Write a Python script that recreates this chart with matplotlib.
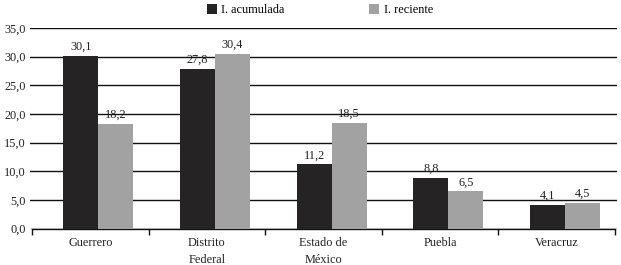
import matplotlib
matplotlib.use("Agg")
import matplotlib.pyplot as plt
import numpy as np
from matplotlib.patches import Patch

categories = ["Guerrero", "Distrito\nFederal", "Estado de\nMéxico", "Puebla", "Veracruz"]
series_names = ["I. acumulada", "I. reciente"]
acumulada = [30.1, 27.8, 11.2, 8.8, 4.1]
reciente = [18.2, 30.4, 18.5, 6.5, 4.5]
yticks = [0, 5, 10, 15, 20, 25, 30, 35]

plt.rcParams['font.family'] = ['Liberation Serif', 'DejaVu Serif']
FS = 8.8
c_dark = "#262324"
c_gray = "#a2a2a2"

fig = plt.figure(figsize=(6.21, 2.65), dpi=100)
ax = fig.add_axes([30/621, 1 - 228.7/265, 587/621, (228.7 - 28)/265])

x = np.arange(len(categories))
w = 0.3
off = 0.07
b1 = ax.bar(x + off - w/2, acumulada, w, color=c_dark, zorder=3)
b2 = ax.bar(x + off + w/2, reciente, w, color=c_gray, zorder=3)

def fmt(v):
    return f"{v:.1f}".replace(".", ",")

for rects, vals in ((b1, acumulada), (b2, reciente)):
    for r, v in zip(rects, vals):
        ax.text(r.get_x() + r.get_width()/2, v + 0.55, fmt(v), ha="center", va="bottom",
                fontsize=FS, color="#222222")

ax.set_ylim(0, 35)
ax.set_xlim(-0.517, 4.517)
ax.set_yticks(yticks)
ax.set_yticklabels([fmt(v) for v in yticks], fontsize=FS, color="#222222")
ax.tick_params(axis="y", length=0, pad=3)
ax.yaxis.grid(True, color="#111111", linewidth=1.0, zorder=0)
ax.set_axisbelow(True)

ax.set_xticks(x)
ax.set_xticklabels(categories, fontsize=FS, color="#222222", linespacing=1.5)
ax.tick_params(axis="x", which="major", length=0, pad=6)
ax.set_xticks(np.arange(-0.5, len(categories), 1.0), minor=True)
ax.tick_params(axis="x", which="minor", length=4, width=1.0, color="#111111", direction="out")

for s in ("top", "right", "left"):
    ax.spines[s].set_visible(False)
ax.spines["bottom"].set_color("#111111")
ax.spines["bottom"].set_linewidth(1.0)
ax.spines["bottom"].set_bounds(-0.5, 4.5)

handles = [Patch(facecolor=c_dark, edgecolor="none"), Patch(facecolor=c_gray, edgecolor="none")]
fig.legend(handles, series_names, loc="upper center", bbox_to_anchor=(0.515, 1.027), ncol=2,
           frameon=False, fontsize=FS, handlelength=0.85, handleheight=0.85,
           handletextpad=0.35, columnspacing=6.9)

fig.savefig("out.png", dpi=100)
